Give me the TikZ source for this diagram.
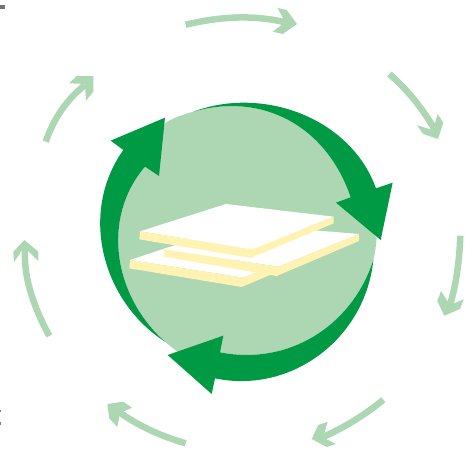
\documentclass[tikz,border=0pt]{standalone}
\definecolor{lightgreen}{HTML}{ADD6B2}
\definecolor{darkgreen}{HTML}{009A44}
\definecolor{cream}{HTML}{FFF3B4}
\tikzset{
  ringline/.style={draw=lightgreen,line width=6.5pt,line cap=butt},
  ringhead/.style={fill=lightgreen},
  bigarrow/.style={fill=darkgreen},
  sheettop/.style={fill=white},
  sheetedge/.style={fill=cream},
  zoomA/.style={shift={(90,90)},x=0.33333pt,y=-0.33333pt},
  zoomB/.style={shift={(120,190)},x=0.33333pt,y=-0.33333pt}
}
\begin{document}
\begin{tikzpicture}[x=1pt,y=-1pt]
\useasboundingbox (0,0) rectangle (465,452);
% scan marks at the page edge
\fill[gray!90!black] (0,5) rectangle (5,9);
\fill[gray] (0,409.5) rectangle (1,412);
\fill[gray] (0,422) rectangle (1,424.5);
% outer ring of light arrows
\draw[ringline] (185.7,24.7) .. controls (222.3,15.9) and (255.4,15.1) .. (285,22.3);
\fill[ringhead] (277.7,8) -- (286.7,10) -- (297,24) -- (282.7,34) -- (272.7,31.7) -- (285,22.3) -- cycle;
\draw[ringline] (389.3,74) .. controls (407.1,89.3) and (422.3,108) .. (435,130);
\fill[ringhead] (437.7,114) -- (443.3,122.7) -- (438,139) -- (423.3,134) -- (417,125.3) -- (433,130) -- cycle;
\draw[ringline] (460.3,235.7) .. controls (459.3,264) and (455.5,288.1) .. (449,308);
\fill[ringhead] (441,291) -- (437.3,301) -- (444.3,315.7) -- (460,309) -- (463.7,299.3) -- (450,305) -- cycle;
\draw[ringline] (383.3,399.7) .. controls (366,414.2) and (345.6,426.8) .. (322,437.5);
\fill[ringhead] (327.7,421.7) -- (318.3,425) -- (311.7,439) -- (326.7,447) -- (336,444) -- (323,437.5) -- cycle;
\draw[ringline] (185.7,443.3) .. controls (160.3,436) and (138.1,425.6) .. (119,412);
\fill[ringhead] (132,407.7) -- (123.3,401.7) -- (107.3,404) -- (109.3,418.3) -- (117.3,427) -- (120,413) -- cycle;
\draw[ringline] (49.3,336) .. controls (31.7,303.3) and (23.6,274.7) .. (25,250);
\fill[ringhead] (24.3,240) -- (38.3,251.7) -- (38.3,261) -- (27,250) -- (22,250) -- (14,262.3) -- (13.3,251.7) -- cycle;
\draw[ringline] (45.7,141.7) .. controls (53.9,118.3) and (66.7,99.4) .. (85,85);
\fill[ringhead] (69,83.3) -- (76.7,76) -- (93.3,76) -- (93.3,91.7) -- (86,100.7) -- (85,84) -- cycle;
% light disc and three dark arrows
\begin{scope}[zoomA]
\fill[lightgreen] (165,230) .. controls (32,385) and (72,620) .. (225,755)
  .. controls (245,772) and (255,780) .. (270,790) -- (390,787)
  .. controls (595,827) and (785,710) .. (850,510)
  .. controls (855,490) and (858,470) .. (860,445) -- (782,322)
  .. controls (710,110) and (520,5) .. (310,65)
  .. controls (275,75) and (245,85) .. (225,100) -- cycle;
\fill[bigarrow] (310,65) .. controls (515,-12) and (780,80) .. (858,295)
  -- (908,278) -- (872,450) -- (738,338) -- (782,322)
  .. controls (710,110) and (520,5) .. (310,65) -- cycle;
\fill[bigarrow] (850,510) .. controls (826,745) and (605,913) .. (375,865)
  -- (365,912) -- (233,795) -- (400,737) -- (390,787)
  .. controls (595,827) and (785,710) .. (850,510) -- cycle;
\fill[bigarrow] (225,755) .. controls (34,632) and (-33,366) .. (100,180)
  -- (62,152) -- (225,83) -- (207,258) -- (165,230)
  .. controls (32,385) and (72,620) .. (225,755) -- cycle;
\end{scope}
% stacked sheets
\begin{scope}[zoomB]
\fill[sheettop] (30,210) -- (150,170) -- (445,232) -- (370,263) -- cycle;
\fill[sheetedge] (30,210) -- (28,235) -- (365,291) -- (450,255) -- (445,232) -- (370,263) -- cycle;
\fill[sheettop] (133,178) -- (330,100) -- (717,132) -- (475,230) -- cycle;
\fill[sheetedge] (133,178) -- (132,200) -- (470,258) -- (717,153) -- (717,132) -- (475,230) -- cycle;
\fill[sheettop] (60,124) -- (318,42) -- (641,80) -- (398,178) -- cycle;
\fill[sheetedge] (60,124) -- (58,148) -- (392,204) -- (641,100) -- (641,80) -- (398,178) -- cycle;
\end{scope}
\end{tikzpicture}
\end{document}
